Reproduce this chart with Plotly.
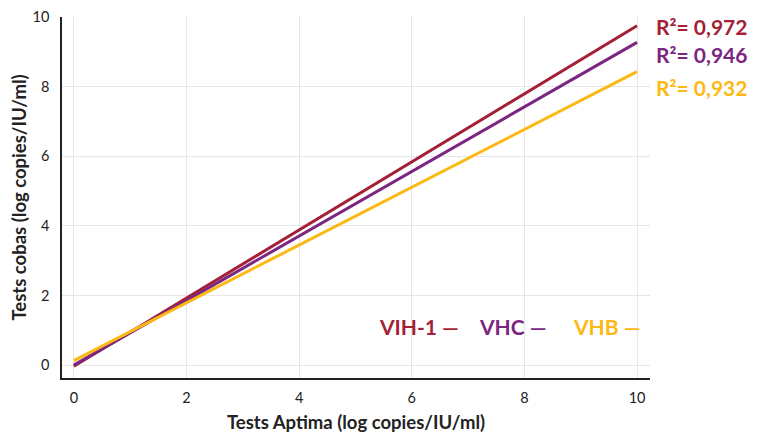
import plotly.graph_objects as go

x_vals = [0, 10]
vih1 = [-0.03, 9.75]
vhc = [0.0, 9.27]
vhb = [0.13, 8.43]

series = [
    ("VIH-1", vih1, "#A51F37", "R²= 0,972"),
    ("VHC", vhc, "#7B2680", "R²= 0,946"),
    ("VHB", vhb, "#FDB913", "R²= 0,932"),
]

font_main = "Lato, Open Sans, sans-serif"

fig = go.Figure()
for name, ys, color, r2 in series:
    fig.add_trace(go.Scatter(x=x_vals, y=ys, mode="lines", name=name,
                             line=dict(color=color, width=3), showlegend=False))

# R² annotations at right
r2_y = [9.74, 8.91, 7.97]
for (name, ys, color, r2), yy in zip(series, r2_y):
    fig.add_annotation(x=1.0, xref="paper", xshift=4, y=yy, yref="y",
                       text="<b>" + r2 + "</b>", showarrow=False,
                       xanchor="left", yanchor="middle",
                       font=dict(size=21, color=color, family=font_main))

# legend-like labels
leg_x = [5.38, 7.15, 8.82]
for (name, ys, color, r2), lx in zip(series, leg_x):
    fig.add_annotation(x=lx, y=1.11, xref="x", yref="y",
                       text="<b>" + name + " —</b>", showarrow=False,
                       xanchor="left", yanchor="middle",
                       font=dict(size=21, color=color, family=font_main))

fig.update_layout(
    width=765, height=436,
    margin=dict(l=54, r=123, t=9, b=66),
    plot_bgcolor="white", paper_bgcolor="white",
    font=dict(family=font_main, size=14.5, color="#222"),
    xaxis=dict(range=[-0.21, 10.23], dtick=2, tick0=0, automargin=False,
               showgrid=True, gridcolor="#e6e6e6", gridwidth=1,
               zeroline=False, showline=True, linecolor="#222", linewidth=1.5,
               ticks="", ticklabelstandoff=6, ticklabeloverflow="allow",
               title=dict(text="<b>Tests Aptima (log copies/IU/ml)</b>",
                          font=dict(size=18.5, color="#222"), standoff=11)),
    yaxis=dict(range=[-0.37, 10.0], dtick=2, tick0=0, automargin=False,
               showgrid=True, gridcolor="#e6e6e6", gridwidth=1,
               zeroline=False, showline=True, linecolor="#222", linewidth=1.5,
               ticks="", ticklabelstandoff=8, ticklabeloverflow="allow",
               title=dict(text="<b>Tests cobas (log copies/IU/ml)</b>",
                          font=dict(size=18.5, color="#222"), standoff=8)),
)

fig.write_html("out.html")
